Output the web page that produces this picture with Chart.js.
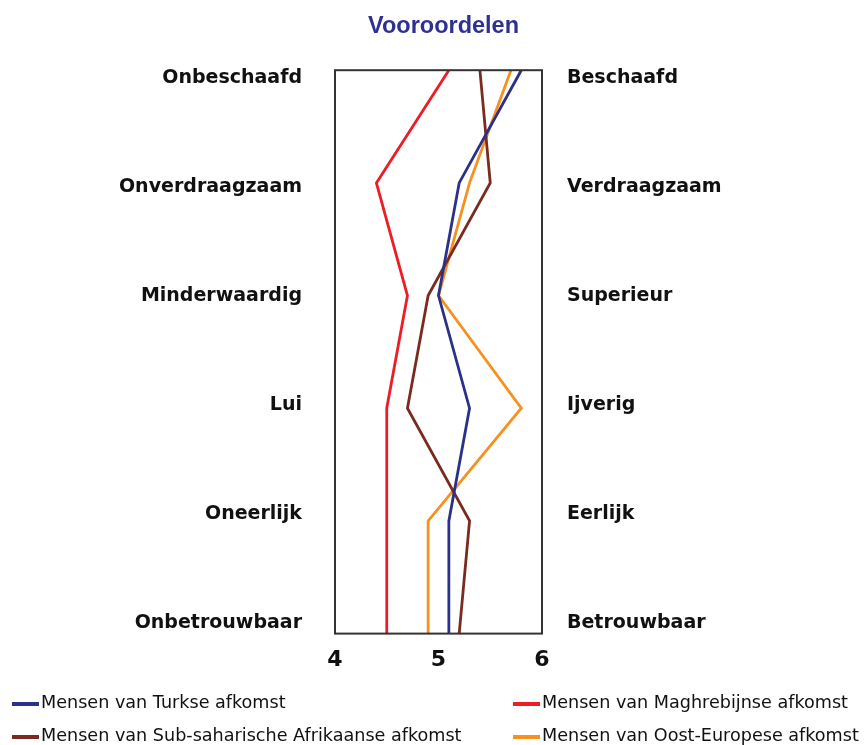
<!DOCTYPE html>
<html>
<head>
<meta charset="utf-8">
<script src="https://cdn.jsdelivr.net/npm/chart.js@4.4.1/dist/chart.umd.min.js"></script>
<style>
  body { margin: 0; background: #fff; }
  #wrap { position: relative; width: 865px; height: 745px; }
  .lg-line { position: absolute; width: 27px; height: 4px; }
  .lg-text { position: absolute; font-family: "DejaVu Sans", sans-serif; font-size: 17.6px; line-height: 20px; color: #111; white-space: nowrap; }
</style>
</head>
<body>
<div id="wrap">
  <canvas id="chart" width="865" height="745"></canvas>
</div>
<script>
// labels links (negatief) en rechts (positief), van boven naar onder
const leftLabels = ['Onbeschaafd', 'Onverdraagzaam', 'Minderwaardig', 'Lui', 'Oneerlijk', 'Onbetrouwbaar'];
const rightLabels = ['Beschaafd', 'Verdraagzaam', 'Superieur', 'Ijverig', 'Eerlijk', 'Betrouwbaar'];
const xTicks = [4, 5, 6];

const seriesNames = [
  'Mensen van Turkse afkomst',
  'Mensen van Maghrebijnse afkomst',
  'Mensen van Sub-saharische Afrikaanse afkomst',
  'Mensen van Oost-Europese afkomst'
];
const turkse = [5.8, 5.2, 5.0, 5.3, 5.1, 5.1];
const maghrebijnse = [5.1, 4.4, 4.7, 4.5, 4.5, 4.5];
const subsahara = [5.4, 5.5, 4.9, 4.7, 5.3, 5.2];
const oostEuropa = [5.7, 5.3, 5.0, 5.8, 4.9, 4.9];
const colors = ['#2b3088', '#ee1c25', '#7a2a1e', '#f7901e'];

const series = [turkse, maghrebijnse, subsahara, oostEuropa];

// kader rond het plotgebied
const frame = {
  id: 'frame',
  afterDatasetsDraw(chart) {
    const a = chart.chartArea;
    const ctx = chart.ctx;
    ctx.save();
    ctx.strokeStyle = '#333';
    ctx.lineWidth = 2;
    ctx.strokeRect(a.left, a.top, a.right - a.left, a.bottom - a.top);
    ctx.restore();
  }
};

function labelAxis(position, labels, width, pad) {
  return {
    type: 'linear',
    position: position,
    min: -0.07,
    max: 5.1,
    reverse: true,
    grid: { display: false },
    border: { display: false },
    afterBuildTicks: scale => { scale.ticks = labels.map((_, i) => ({ value: i })); },
    afterFit: scale => { scale.width = width; },
    ticks: {
      padding: pad,
      color: '#111',
      font: { family: 'DejaVu Sans', size: 19, weight: 'bold' },
      callback: v => labels[v]
    }
  };
}

new Chart(document.getElementById('chart'), {
  type: 'line',
  data: {
    labels: leftLabels,
    datasets: series.map((d, i) => ({
      label: seriesNames[i],
      data: d,
      borderColor: colors[i],
      backgroundColor: colors[i],
      borderWidth: 2.8,
      pointRadius: 0,
      tension: 0,
      fill: false
    }))
  },
  options: {
    indexAxis: 'y',
    responsive: false,
    animation: false,
    layout: { padding: { left: 22, right: 0, top: 0, bottom: 67 } },
    plugins: {
      legend: { display: false },
      tooltip: { enabled: false },
      title: {
        display: true,
        text: 'Vooroordelen',
        color: '#2e3192',
        font: { family: 'Liberation Sans', size: 23.5, weight: 'bold' },
        padding: { top: 12, bottom: 30 }
      }
    },
    scales: {
      x: {
        type: 'linear',
        min: xTicks[0],
        max: xTicks[xTicks.length - 1],
        grid: { display: false },
        border: { display: false },
        ticks: {
          stepSize: 1,
          padding: 5,
          color: '#111',
          font: { family: 'DejaVu Sans', size: 22, weight: 'bold' }
        }
      },
      y: { type: 'category', display: false, offset: false },
      yl: labelAxis('left', leftLabels, 313, 25),
      yr: labelAxis('right', rightLabels, 323, 17)
    }
  },
  plugins: [frame]
});

// legenda in twee kolommen
const wrap = document.getElementById('wrap');
const spots = [[12, 0], [513, 0], [12, 1], [513, 1]];
spots.forEach(([x, row], s) => {
  const line = document.createElement('div');
  line.className = 'lg-line';
  line.style.left = x + 'px';
  line.style.top = (701.5 + row * 33) + 'px';
  line.style.background = colors[s];
  wrap.appendChild(line);
  const txt = document.createElement('div');
  txt.className = 'lg-text';
  txt.style.left = (x + 29) + 'px';
  txt.style.top = (692 + row * 32.5) + 'px';
  txt.textContent = seriesNames[s];
  wrap.appendChild(txt);
});
</script>
</body>
</html>
